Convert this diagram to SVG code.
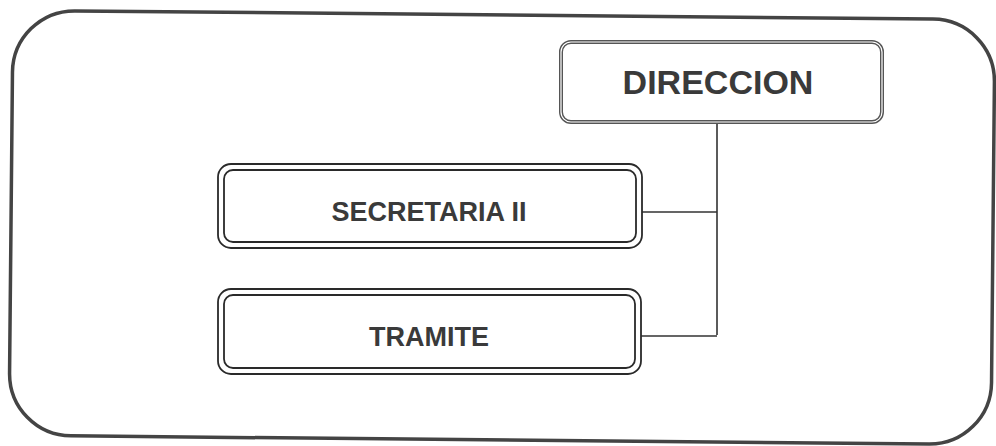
<svg xmlns="http://www.w3.org/2000/svg" width="996" height="446" viewBox="0 0 996 446">
<style>
.frame{fill:none;stroke:#444;stroke-width:3.5}
.outer{fill:#fff;stroke:#555;stroke-width:4}
.inner{fill:none;stroke:#fff;stroke-width:1.2}
.dbl{fill:none;stroke:#2a2a2a;stroke-width:1.8}
.lbl{font-family:"Liberation Sans",Arial,sans-serif;font-weight:bold;fill:#3a3a3a;text-anchor:middle}
.conn{fill:none;stroke:#333;stroke-width:1.6}
</style>
<rect width="996" height="446" fill="#fff"/>
<rect class="frame" x="11" y="15" width="982" height="425" rx="62" ry="62" transform="rotate(0.55 503 227)"/>
<g id="connectors">
<path class="conn" d="M717 124 V335 M642 212 H717 M641 336 H717"/>
</g>
<g id="direccion">
<rect class="outer" x="561" y="42" width="321" height="80" rx="10"/>
<rect class="inner" x="561" y="42" width="321" height="80" rx="10"/>
<text class="lbl" x="718" y="94" font-size="34">DIRECCION</text>
</g>
<g id="secretaria">
<rect class="dbl" x="218" y="164" width="424" height="84" rx="13"/>
<rect class="dbl" x="224" y="170" width="412" height="72" rx="9"/>
<text class="lbl" x="429" y="221" font-size="27">SECRETARIA II</text>
</g>
<g id="tramite">
<rect class="dbl" x="218" y="289" width="423" height="85" rx="13"/>
<rect class="dbl" x="224" y="295" width="411" height="73" rx="9"/>
<text class="lbl" x="429" y="346" font-size="27">TRAMITE</text>
</g>
</svg>
